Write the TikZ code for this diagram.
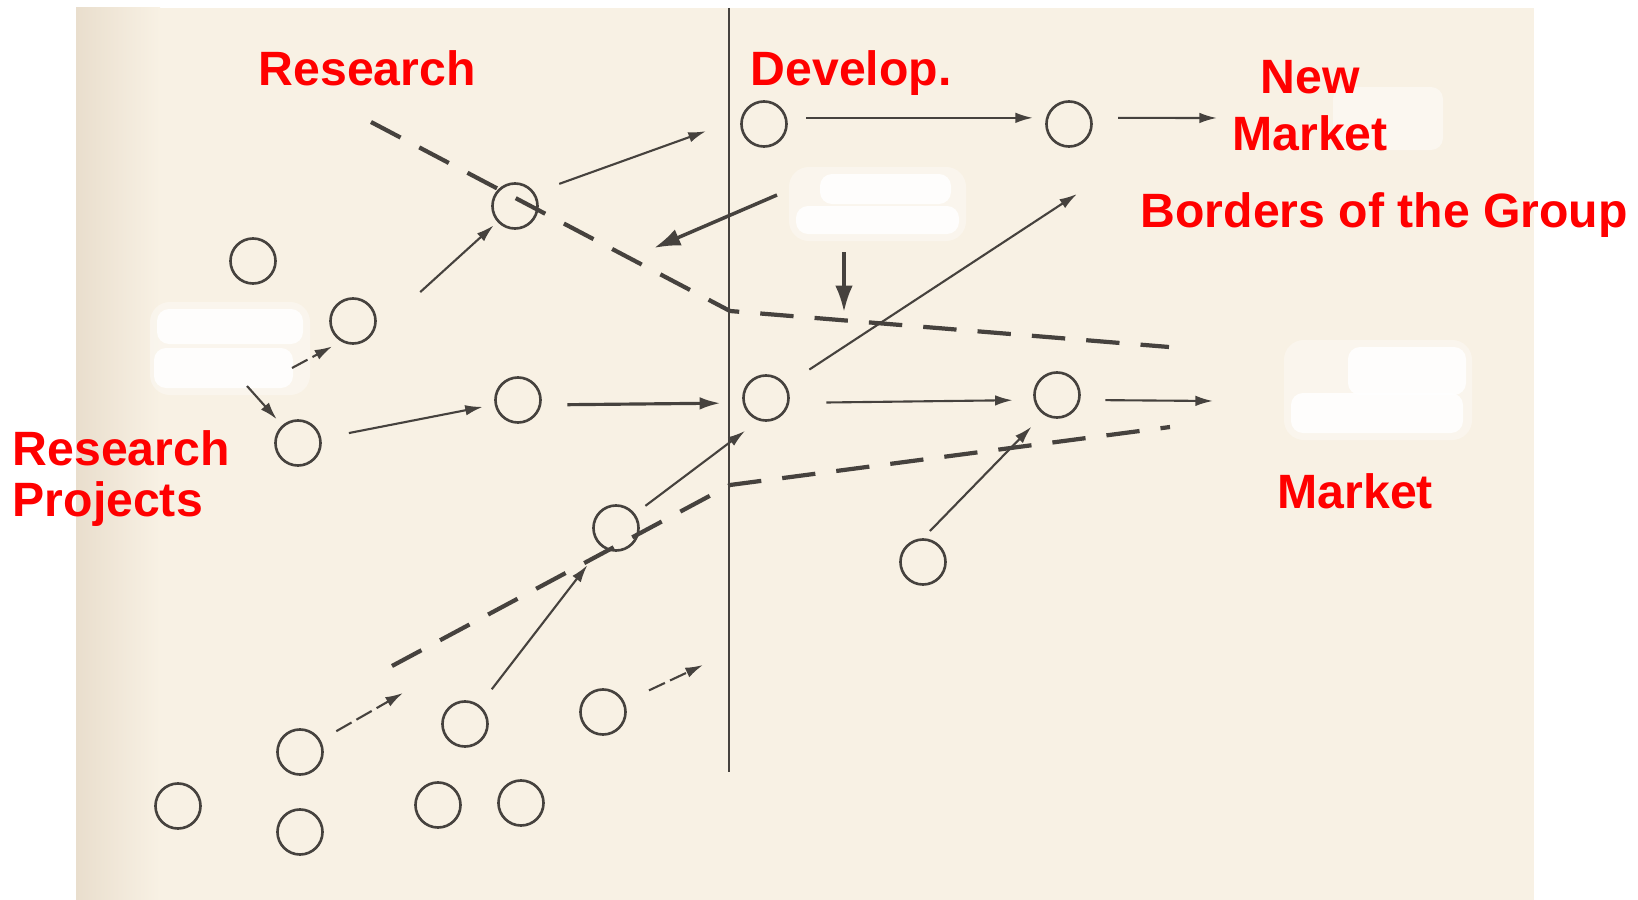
\documentclass[tikz,border=0pt]{standalone}
\usepackage{fontspec}
\setmainfont{Liberation Sans}
\usepackage{xcolor}
\usepackage{tikz}
\usetikzlibrary{arrows.meta}
\definecolor{ink}{RGB}{70,66,62}
\definecolor{paper}{RGB}{248,241,228}
\definecolor{paperdark}{RGB}{233,222,205}
\definecolor{labelred}{RGB}{255,0,0}

\tikzset{
  proj/.style={circle, draw=ink, line width=0.75pt, minimum size=0.45cm, inner sep=0pt},
  flow/.style={draw=ink, line width=0.6pt, -{Latex[length=5pt,width=3pt]}},
  midflow/.style={draw=ink, line width=0.9pt, -{Latex[length=6pt,width=3.6pt]}},
  bigflow/.style={draw=ink, line width=1pt, -{Latex[length=7.5pt,width=5pt]}},
  broken/.style={dash pattern=on 5pt off 1.6pt},
  border/.style={draw=ink, line width=1.2pt, dash pattern=on 9.5pt off 6pt},
  erased/.style={fill=white, opacity=0.85, rounded corners=0.12cm},
  erasededge/.style={fill=white, opacity=0.35, rounded corners=0.2cm},
  lbl/.style={text=labelred, font=\bfseries\fontsize{13.7}{14.5}\selectfont, inner sep=0pt}
}

\begin{document}
\begin{tikzpicture}[x=0.01cm, y=-0.01cm]
        \useasboundingbox (0,0) rectangle (1638,900);
        % page
        \fill[paper] (76,8) rectangle (1534,900);
        \shade[left color=paperdark, right color=paper] (76,8) rectangle (160,900);
        \fill[erasededge] (150,302) rectangle (310,395);
        \fill[erased] (157,309) rectangle (303,344);
        \fill[erased] (154,348) rectangle (293,388);
        \fill[erasededge] (789,167) rectangle (966,241);
        \fill[erased] (820,174) rectangle (951,204);
        \fill[erased] (796,206) rectangle (959,234);
        \fill[erasededge] (1284,340) rectangle (1472,440);
        \fill[erased] (1348,347) rectangle (1466,395);
        \fill[erased] (1291,393) rectangle (1463,433);
        \fill[erased, opacity=0.45] (1333,87) rectangle (1443,150);

        % research | development split
        \draw[ink, line width=0.7pt] (729,8) -- (729,772);

        % group borders
        \draw[border] (371,122) -- (730,311) -- (1169,347);
        \draw[border] (392,666) -- (730,485) -- (1170,427);

        % projects
        \node[proj] (res) at (515,206) {};
        \node[proj] (devA) at (764,124) {};
        \node[proj] (newm) at (1069,124) {};
        \node[proj] (p1) at (253,261) {};
        \node[proj] (p2) at (353,321) {};
        \node[proj] (p3) at (298,443) {};
        \node[proj] (p4) at (518,400) {};
        \node[proj] (devB) at (766,398) {};
        \node[proj] (mkt) at (1057,395) {};
        \node[proj] (p5) at (616,528) {};
        \node[proj] (p6) at (923,562) {};
        \node[proj] (p7) at (300,752) {};
        \node[proj] (p8) at (465,724) {};
        \node[proj] (p9) at (603,712) {};
        \node[proj] (p10) at (178,806) {};
        \node[proj] (p11) at (300,832) {};
        \node[proj] (p12) at (438,805) {};
        \node[proj] (p13) at (521,803) {};

        \coordinate (newmOut) at (1217,118);
        \coordinate (mktOut) at (1213,401);
        \coordinate (upOut) at (1077,194);
        \coordinate (p7Out) at (403,693);
        \coordinate (p9Out) at (703,665);
        \coordinate (backA) at (777,195);
        \coordinate (backAend) at (654,248);
        \coordinate (backB) at (844,252);
        \coordinate (backBend) at (844,312);
        \coordinate (srcA) at (292,368);
        \coordinate (srcB) at (247,386);

        % flows
        \draw[flow, shorten <=0.26cm, shorten >=0.37cm] (res.34) -- (devA.167);
        \draw[flow, shorten <=0.19cm, shorten >=0.13cm] (devA.15) -- (newm.165);
        \draw[flow, shorten <=0.26cm] (newm.15) -- (newmOut);
        \draw[bigflow] (backA) -- (backAend);
        \draw[bigflow] (backB) -- (backBend);
        \draw[flow, shorten <=0.68cm, shorten >=0.05cm] (p2.-45) -- (res);
        \draw[flow, broken, shorten >=0.10cm] (srcA) -- (p2.240);
        \draw[flow, shorten >=0.08cm] (srcB) -- (p3);
        \draw[flow, shorten <=0.28cm, shorten >=0.12cm] (p3) -- (p4);
        \draw[midflow, shorten <=0.26cm, shorten >=0.22cm] (p4.-12) -- (devB.192);
        \draw[flow, shorten <=0.37cm, shorten >=0.21cm] (devB.-12) -- (mkt.192);
        \draw[flow, shorten <=0.25cm] (mkt.-12) -- (mktOut);
        \draw[flow, shorten <=0.28cm] (devB) -- (upOut);
        \draw[flow, shorten <=0.13cm, shorten >=0.17cm] (p5) -- (devB.252);
        \draw[flow, shorten <=0.10cm, shorten >=0.17cm] (p6.north) -- (mkt.235);
        \draw[flow, shorten <=0.20cm, shorten >=0.23cm] (p8) -- (p5);
        \draw[flow, broken, shorten <=0.18cm] (p7) -- (p7Out);
        \draw[flow, broken, shorten <=0.27cm] (p9) -- (p9Out);

        % labels (multi-line nodes sit on their last baseline)
        \node[lbl, anchor=base west] (tRes) at (258,86) {Research};
        \node[lbl, anchor=base west] (tDev) at (750,86) {Develop.};
        \node[lbl, anchor=base, align=center, font=\bfseries\fontsize{13.7}{16.2}\selectfont] (tNew) at (1310,150) {New\\Market};
        \node[lbl, anchor=base west] (tBorder) at (1140,228) {Borders of the Group};
        \node[lbl, anchor=base west] (tMkt) at (1277,508) {Market};
        \node[lbl, anchor=base west, align=left] (tProj) at (12,516) {Research\\Projects};
\end{tikzpicture}
\end{document}
